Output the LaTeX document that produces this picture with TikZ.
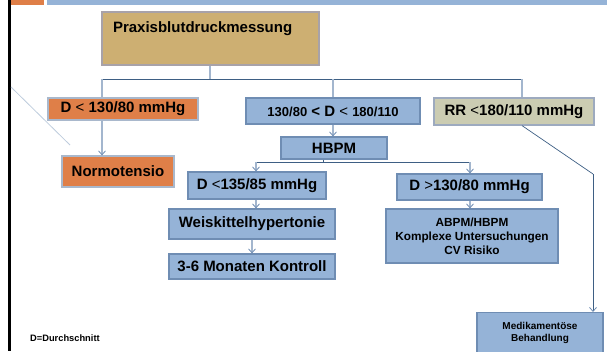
\documentclass[tikz,border=0pt]{standalone}
\usepackage{fontspec}
\setmainfont{Liberation Sans}
\usetikzlibrary{arrows.meta}
\definecolor{bluebox}{HTML}{95B3D7}
\definecolor{blueedge}{HTML}{6F8DB3}
\definecolor{orangebox}{HTML}{DF7F48}
\definecolor{orangeedge}{HTML}{A9B8CC}
\definecolor{tanbox}{HTML}{CDAF72}
\definecolor{tanedge}{HTML}{A8A2A8}
\definecolor{rrbox}{HTML}{CBCCB2}
\definecolor{rredge}{HTML}{9DAABF}
\definecolor{treeline}{HTML}{3E5F84}
\definecolor{arrline}{HTML}{A3B6CE}
\definecolor{arrtip}{HTML}{6F8DB3}
\tikzset{
  x=1pt, y=-1pt,
  boxbase/.style={draw, line width=1.2pt, inner sep=0pt, align=center, font=\bfseries\fontsize{15}{17}\selectfont},
  bluenode/.style={boxbase, fill=bluebox, draw=blueedge},
  orangenode/.style={boxbase, fill=orangebox, draw=orangeedge},
  tree/.style={draw=treeline, line width=0.9pt},
  drop/.style={draw=arrline, line width=1.1pt},
  arr/.style={draw=arrline, line width=1.1pt, -{Straight Barb[length=4pt,width=7pt,line width=0.8pt,color=arrtip]}},
}
\begin{document}
\begin{tikzpicture}
\useasboundingbox (0,0) rectangle (607,351);
% header strips
\fill[orangebox] (11,0) rectangle (44,5);
\fill[bluebox] (47,0) rectangle (607,5);
\fill[black] (7.5,0) rectangle (10.5,351);
% faint diagonal
\draw[arrline!70, line width=0.8pt] (11,87) -- (70,145);

\node[boxbase, fill=tanbox, draw=tanedge, text width=195pt, align=left, inner xsep=11pt,
  minimum height=53, text height=15pt, text depth=28pt, inner ysep=5pt] (praxis) at (210.5,38.5) {Praxisblutdruckmessung};

\node[orangenode, minimum width=150, minimum height=22] (d130) at (123,109)
  {D {\mdseries<} 130/80 mmHg};
\node[bluenode, minimum width=174, minimum height=26] (mid) at (333,111)
  {{\fontsize{13}{14}\selectfont 130/80} < D {\mdseries<} {\fontsize{13}{14}\selectfont 180/110}};
\node[boxbase, fill=rrbox, draw=rredge, minimum width=160, minimum height=27] (rr) at (514,111.5)
  {RR {\mdseries<}180/110 mmHg};

\node[orangenode, minimum width=112, minimum height=31] (normo) at (118,171.5) {Normotensio};
\node[bluenode, minimum width=106, minimum height=22] (hbpm) at (334,148) {HBPM};
\node[bluenode, minimum width=138, minimum height=27] (d135) at (257,185.5) {D {\mdseries<}135/85 mmHg};
\node[bluenode, minimum width=166, minimum height=30] (weis) at (252,224) {Weiskittelhypertonie};
\node[bluenode, minimum width=166, minimum height=25] (kontr) at (252,266.5) {3-6 Monaten Kontroll};
\node[bluenode, minimum width=145, minimum height=26] (d130b) at (469.5,187) {D {\mdseries>}130/80 mmHg};
\node[bluenode, minimum width=172, minimum height=54,
  font=\bfseries\fontsize{11.8}{14}\selectfont] (abpm) at (472,236)
  {ABPM/HBPM\\Komplexe Untersuchungen\\CV Risiko};
\node[bluenode, minimum width=126, minimum height=41, anchor=north,
  font=\bfseries\fontsize{10}{12.5}\selectfont] (medi) at (540,312)
  {Medikamentöse\\Behandlung};

\node[anchor=base west, inner sep=0pt, font=\bfseries\fontsize{9.3}{11}\selectfont] (note) at (30,341) {D=Durchschnitt};

% coordinates for connector positions
\coordinate (t1) at (210,79);
\coordinate (xa) at (102,0);
\coordinate (xb) at (333,0);
\coordinate (xc) at (522,0);
\coordinate (hb) at (323,162);
\coordinate (xl) at (256,0);
\coordinate (xr) at (470,0);
\coordinate (xw) at (252,0);
\coordinate (rk) at (593,174);

% top tree
\draw[drop] (praxis.south -| t1) -- (t1);
\draw[tree] (t1 -| xa) -- (t1 -| xc);
\draw[drop] (t1 -| xa) -- (d130.north -| xa);
\draw[drop] (t1 -| xb) -- (mid.north -| xb);
\draw[drop] (t1 -| xc) -- (rr.north -| xc);

\draw[arr] (d130.south -| xa) -- (normo.north -| xa);
\draw[arr] (mid.south -| xb) -- (hbpm.north -| xb);

% HBPM tree
\draw[tree] (hbpm.south -| hb) -- (hb);
\draw[tree] (hb -| xl) -- (hb -| xr);
\draw[arr] (hb -| xl) -- (d135.north -| xl);
\draw[arr] (hb -| xr) -- (d130b.north -| xr);

\draw[arr] (d135.south -| xl) -- (weis.north -| xl);
\draw[arr] (weis.south -| xw) -- (kontr.north -| xw);
\draw[arr] (d130b.south -| xr) -- (abpm.north -| xr);

% RR to medication
\draw[tree, line width=0.7pt] (rr.south -| xc) -- (rk);
\draw[arr, draw=treeline, line width=0.7pt] (rk) -- (medi.north -| rk);
\end{tikzpicture}
\end{document}
